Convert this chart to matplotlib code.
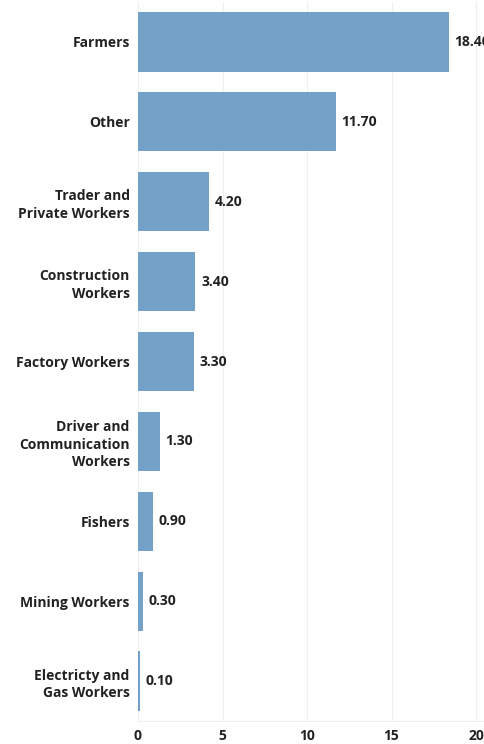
import matplotlib
matplotlib.use("Agg")
import matplotlib.pyplot as plt

categories = ["Farmers", "Other", "Trader and\nPrivate Workers", "Construction\nWorkers",
              "Factory Workers", "Driver and\nCommunication\nWorkers", "Fishers",
              "Mining Workers", "Electricty and\nGas Workers"]
values = [18.4, 11.7, 4.2, 3.4, 3.3, 1.3, 0.9, 0.3, 0.1]
xticks = [0, 5, 10, 15, 20]

plt.rcParams['font.family'] = ['Open Sans', 'DejaVu Sans']

fig = plt.figure(figsize=(4.85, 7.44), dpi=100)
ax = fig.add_axes([138/485, 23/744, 347/485, 719/744])

y = list(range(len(categories)))
ax.barh(y, values, height=0.74, color="#73a1c8", zorder=2)
for yi, v in zip(y, values):
    ax.annotate(f"{v:.2f}", (v, yi), xytext=(4, 0), textcoords="offset points",
                va="center", ha="left", fontsize=10, fontweight="bold", color="#222222",
                annotation_clip=False)

ax.set_ylim(len(categories) - 0.5, -0.5)
ax.set_xlim(0, 20.53)
ax.set_yticks(y)
ax.set_yticklabels(categories, fontsize=10, fontweight="bold", color="#222222",
                   multialignment="right", linespacing=1.32)
ax.set_xticks(xticks)
ax.set_xticklabels([str(t) for t in xticks], fontsize=10, fontweight="bold", color="#222222")
ax.tick_params(axis="both", length=0)
ax.tick_params(axis="y", pad=6)
ax.tick_params(axis="x", pad=6)
ax.grid(axis="x", color="#eeeeee", linewidth=0.8, zorder=0)
for s in ["top", "right", "left"]:
    ax.spines[s].set_visible(False)
ax.spines["bottom"].set_color("#eeeeee")

fig.savefig("out.png", dpi=100)
